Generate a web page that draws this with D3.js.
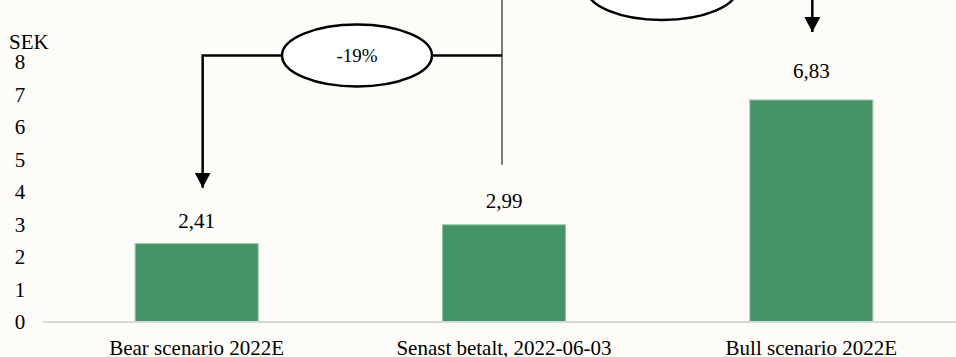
<!DOCTYPE html>
<html>
<head>
<meta charset="utf-8">
<script src="https://cdn.jsdelivr.net/npm/d3@7"></script>
<style>
  html, body { margin: 0; padding: 0; background: #fdfcf9; }
  svg { display: block; }
  svg text { font-family: "Liberation Serif", Tinos, "Times New Roman", Times, "DejaVu Serif", "Noto Serif", serif !important; fill: #000; }
</style>
</head>
<body>
<svg id="chart" width="956" height="357"></svg>
<script>
// Share price scenarios (SEK)
const categories = ["Bear scenario 2022E", "Senast betalt, 2022-06-03", "Bull scenario 2022E"];
const values = [2.41, 2.99, 6.83];
const valueLabels = ["2,41", "2,99", "6,83"];
const yTicks = [0, 1, 2, 3, 4, 5, 6, 7, 8];
const unitLabel = "SEK";

const W = 956, H = 357;
const FS = "21px";
const svg = d3.select("#chart");

const x = d3.scaleBand().domain(categories).range([43, 965]).paddingInner(0.6).paddingOuter(0.3);
const y = d3.scaleLinear().domain([0, 8]).range([322, 62]);

// Arrowhead marker
svg.append("defs").append("marker")
  .attr("id", "head")
  .attr("viewBox", "0 0 16 15")
  .attr("refX", 8).attr("refY", 15)
  .attr("markerWidth", 16).attr("markerHeight", 15)
  .attr("markerUnits", "userSpaceOnUse")
  .attr("orient", "0")
  .append("path").attr("d", "M0,0 L16,0 L8,15 Z").attr("fill", "#000");

// Y axis labels (no line, no ticks)
const yAxis = d3.axisLeft(y).tickValues(yTicks).tickSize(0).tickPadding(0).tickFormat(d3.format("d"));
const ya = svg.append("g").attr("transform", "translate(26,0)").call(yAxis);
ya.attr("font-family", null).attr("font-size", null);
ya.select(".domain").remove();
ya.selectAll("text")
  .attr("text-anchor", "middle").attr("x", -6)
  .style("font-size", FS);

svg.append("text").attr("x", 9).attr("y", 49).style("font-size", FS).text(unitLabel);

// Bars
const barW = x.bandwidth();
svg.append("g").selectAll("rect").data(values).join("rect")
  .attr("x", (d, i) => x(categories[i]))
  .attr("y", d => y(d))
  .attr("width", barW)
  .attr("height", d => y(0) - y(d))
  .attr("fill", "#469367")
  .attr("stroke", "#8fc1a2").attr("stroke-width", 1);

// Baseline
svg.append("line").attr("x1", 43).attr("x2", W).attr("y1", y(0)).attr("y2", y(0))
  .attr("stroke", "#d9d9d9").attr("stroke-width", 2);

// Value labels
const labelGap = [16, 17, 22];
svg.append("g").selectAll("text").data(values).join("text")
  .attr("x", (d, i) => x(categories[i]) + barW / 2)
  .attr("y", (d, i) => y(d) - labelGap[i])
  .attr("text-anchor", "middle").style("font-size", FS)
  .text((d, i) => valueLabels[i]);

// Category labels
const xAxis = d3.axisBottom(x).tickSize(0).tickPadding(0);
const xa = svg.append("g").attr("transform", `translate(0,${y(0)})`).call(xAxis);
xa.attr("font-family", null).attr("font-size", null);
xa.select(".domain").remove();
xa.selectAll("text").attr("dy", 0).attr("y", 33)
  .style("font-size", FS);

// Change vs. last price
const cx = i => x(categories[i]) + barW / 2;
const pct = v => {
  const p = Math.round((v / values[1] - 1) * 100);
  return (p > 0 ? "+" : "") + p + "%";
};

const ann = svg.append("g").attr("fill", "none");
const midX = cx(1) - 2;
// Vertical from last price bar upward
ann.append("line").attr("x1", midX).attr("x2", midX)
  .attr("y1", y(values[1]) - 60).attr("y2", -20)
  .attr("stroke", "#333").attr("stroke-width", 1.3);

// Bear connector
const yBear = y(8.2);
const e1 = { cx: 357, cy: yBear, rx: 75, ry: 31 };
ann.append("line").attr("x1", e1.cx + e1.rx).attr("x2", midX).attr("y1", yBear).attr("y2", yBear)
  .attr("stroke", "#000").attr("stroke-width", 2.5);
ann.append("path")
  .attr("d", `M${e1.cx - e1.rx},${yBear} H${cx(0) + 6} V${y(values[0]) - 56}`)
  .attr("stroke", "#000").attr("stroke-width", 2.5).attr("marker-end", "url(#head)");

// Bull connector
const yBull = -11;
const e2 = { cx: 662, cy: yBull, rx: 75, ry: 31 };
ann.append("line").attr("x1", midX).attr("x2", e2.cx - e2.rx).attr("y1", yBull).attr("y2", yBull)
  .attr("stroke", "#000").attr("stroke-width", 2.5);
ann.append("path")
  .attr("d", `M${e2.cx + e2.rx},${yBull} H${cx(2) + 1} V${y(values[2]) - 68}`)
  .attr("stroke", "#000").attr("stroke-width", 2.5).attr("marker-end", "url(#head)");

[[e1, values[0]], [e2, values[2]]].forEach(([e, v]) => {
  svg.append("ellipse").attr("cx", e.cx).attr("cy", e.cy).attr("rx", e.rx).attr("ry", e.ry)
    .attr("fill", "#fff").attr("stroke", "#000").attr("stroke-width", 2.5);
  svg.append("text").attr("x", e.cx).attr("y", e.cy + 6)
    .attr("text-anchor", "middle").style("font-size", "19px").text(pct(v));
});
</script>
</body>
</html>
